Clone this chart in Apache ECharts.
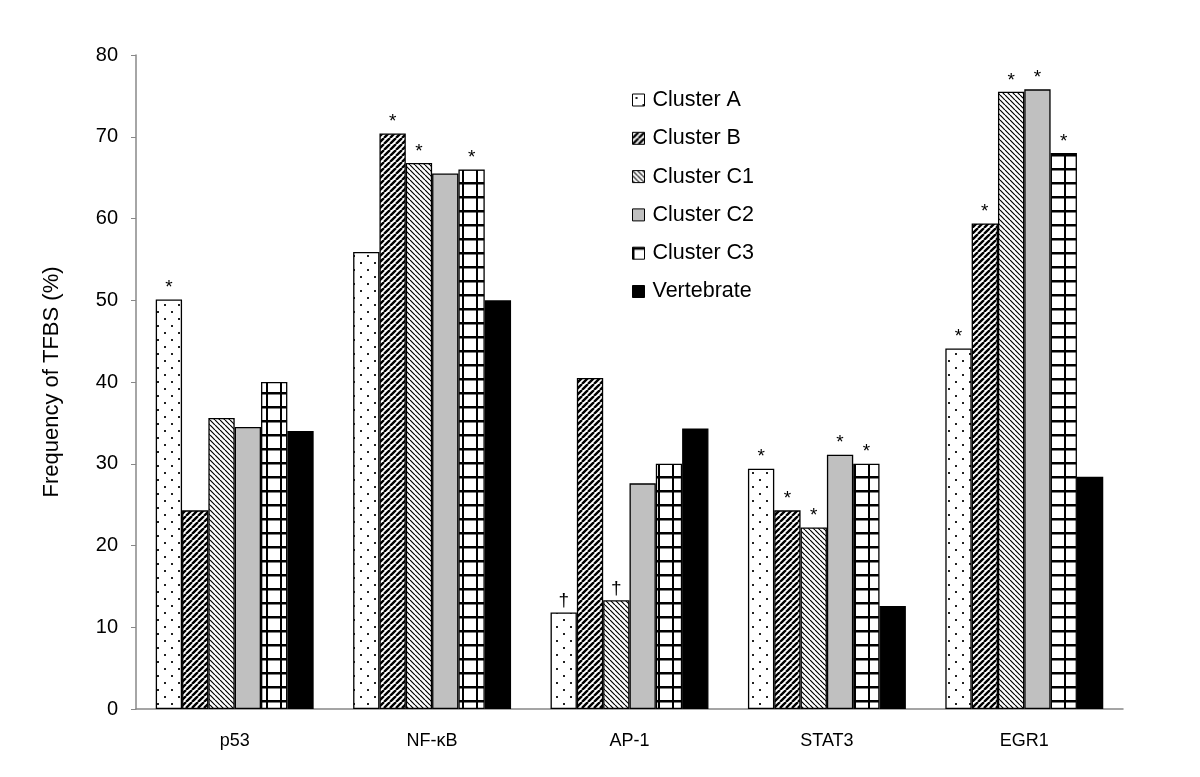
<!DOCTYPE html>
<html>
<head>
<meta charset="utf-8">
<script src="https://cdn.jsdelivr.net/npm/echarts@6/dist/echarts.min.js"></script>
<style>
html,body{margin:0;padding:0;background:#fff;}
#chart{width:1200px;height:777px;}
</style>
</head>
<body>
<div id="chart"></div>
<script>
// ---- data ----
const categories = ['p53', 'NF-\u03baB', 'AP-1', 'STAT3', 'EGR1'];
const seriesNames = ['Cluster A', 'Cluster B', 'Cluster C1', 'Cluster C2', 'Cluster C3', 'Vertebrate'];
const clusterA   = [50.1, 55.9, 11.8, 29.4, 44.1];
const clusterB   = [24.3, 70.4, 40.5, 24.3, 59.4];
const clusterC1  = [35.6, 66.8, 13.3, 22.2, 75.5];
const clusterC2  = [34.5, 65.5, 27.6, 31.1, 75.8];
const clusterC3  = [40.0, 66.0, 30.0, 30.0, 68.0];
const vertebrate = [34.0, 50.0, 34.3, 12.6, 28.4];
// significance marks shown above bars
const marksA  = ['*', '', '\u2020', '*', '*'];
const marksB  = ['', '*', '', '*', '*'];
const marksC1 = ['', '*', '\u2020', '*', '*'];
const marksC2 = ['', '', '', '*', '*'];
const marksC3 = ['', '*', '', '*', '*'];
const marksV  = ['', '', '', '', ''];
const yTicks = { min: 0, max: 80, interval: 10 };

// ---- patterns ----
function tile(w, h, draw) {
  const c = document.createElement('canvas');
  c.width = w; c.height = h;
  const ctx = c.getContext('2d');
  ctx.fillStyle = '#fff';
  ctx.fillRect(0, 0, w, h);
  draw(ctx, w, h);
  return { image: c, repeat: 'repeat' };
}
const patDots = tile(14, 14, (ctx) => {
  ctx.fillStyle = '#222';
  ctx.fillRect(3, 3, 2, 2);
  ctx.fillRect(10, 10, 2, 2);
});
function diag(s, lw, forward) {
  return tile(s, s, (ctx) => {
    ctx.strokeStyle = '#000';
    ctx.lineWidth = lw;
    ctx.beginPath();
    for (let k = -1; k <= 1; k++) {
      const x = k * s;
      if (forward) { ctx.moveTo(x, s); ctx.lineTo(x + s, 0); }
      else { ctx.moveTo(x, 0); ctx.lineTo(x + s, s); }
    }
    ctx.stroke();
  });
}
const patB = diag(6, 2.4, true);
const patC1 = diag(5, 1.2, false);
const patGrid = tile(14, 14, (ctx) => {
  ctx.fillStyle = '#000';
  ctx.fillRect(0, 0, 2, 14);
  ctx.fillRect(0, 0, 14, 2.5);
});
const fills = [patDots, patB, patC1, '#c0c0c0', patGrid, '#000'];

const values = [clusterA, clusterB, clusterC1, clusterC2, clusterC3, vertebrate];
const marks = [marksA, marksB, marksC1, marksC2, marksC3, marksV];

const series = seriesNames.map((name, s) => ({
  name: name,
  type: 'bar',
  barGap: '0%',
  barCategoryGap: '20%',
  itemStyle: { color: fills[s], borderColor: '#000', borderWidth: 1.3 },
  emphasis: { disabled: true },
  data: values[s].map((v, i) => ({
    value: v,
    label: {
      show: marks[s][i] !== '',
      formatter: marks[s][i],
      position: 'top',
      distance: 2,
      fontSize: 19,
      color: '#000',
      fontFamily: 'Liberation Sans, Arial, sans-serif'
    }
  }))
}));

const chart = echarts.init(document.getElementById('chart'), null, { renderer: 'canvas' });
chart.setOption({
  animation: false,
  backgroundColor: '#fff',
  textStyle: { fontFamily: 'Liberation Sans, Arial, sans-serif' },
  grid: { left: 136, right: 77, top: 55, bottom: 68, containLabel: false },
  legend: {
    orient: 'vertical',
    left: 632,
    top: 89,
    padding: 0,
    itemWidth: 12,
    itemHeight: 12,
    itemGap: 16.3,
    icon: 'rect',
    itemStyle: { borderColor: '#000', borderWidth: 1 },
    textStyle: { fontSize: 21.5, color: '#000', lineHeight: 21.5, padding: [0, 0, 0, 3] },
    data: seriesNames
  },
  xAxis: {
    type: 'category',
    data: categories,
    axisLine: { lineStyle: { color: '#888', width: 1.5 } },
    axisTick: { show: false },
    axisLabel: { fontSize: 18, color: '#000', margin: 23 }
  },
  yAxis: {
    type: 'value',
    min: yTicks.min,
    max: yTicks.max,
    interval: yTicks.interval,
    name: 'Frequency of TFBS (%)',
    nameLocation: 'middle',
    nameGap: 73,
    nameTextStyle: { fontSize: 22, color: '#000' },
    axisLine: { show: true, lineStyle: { color: '#888', width: 1.5 } },
    axisTick: { show: true, length: 5, lineStyle: { color: '#888' } },
    splitLine: { show: false },
    axisLabel: { fontSize: 20, color: '#000', margin: 18 }
  },
  series: series
});
</script>
</body>
</html>
